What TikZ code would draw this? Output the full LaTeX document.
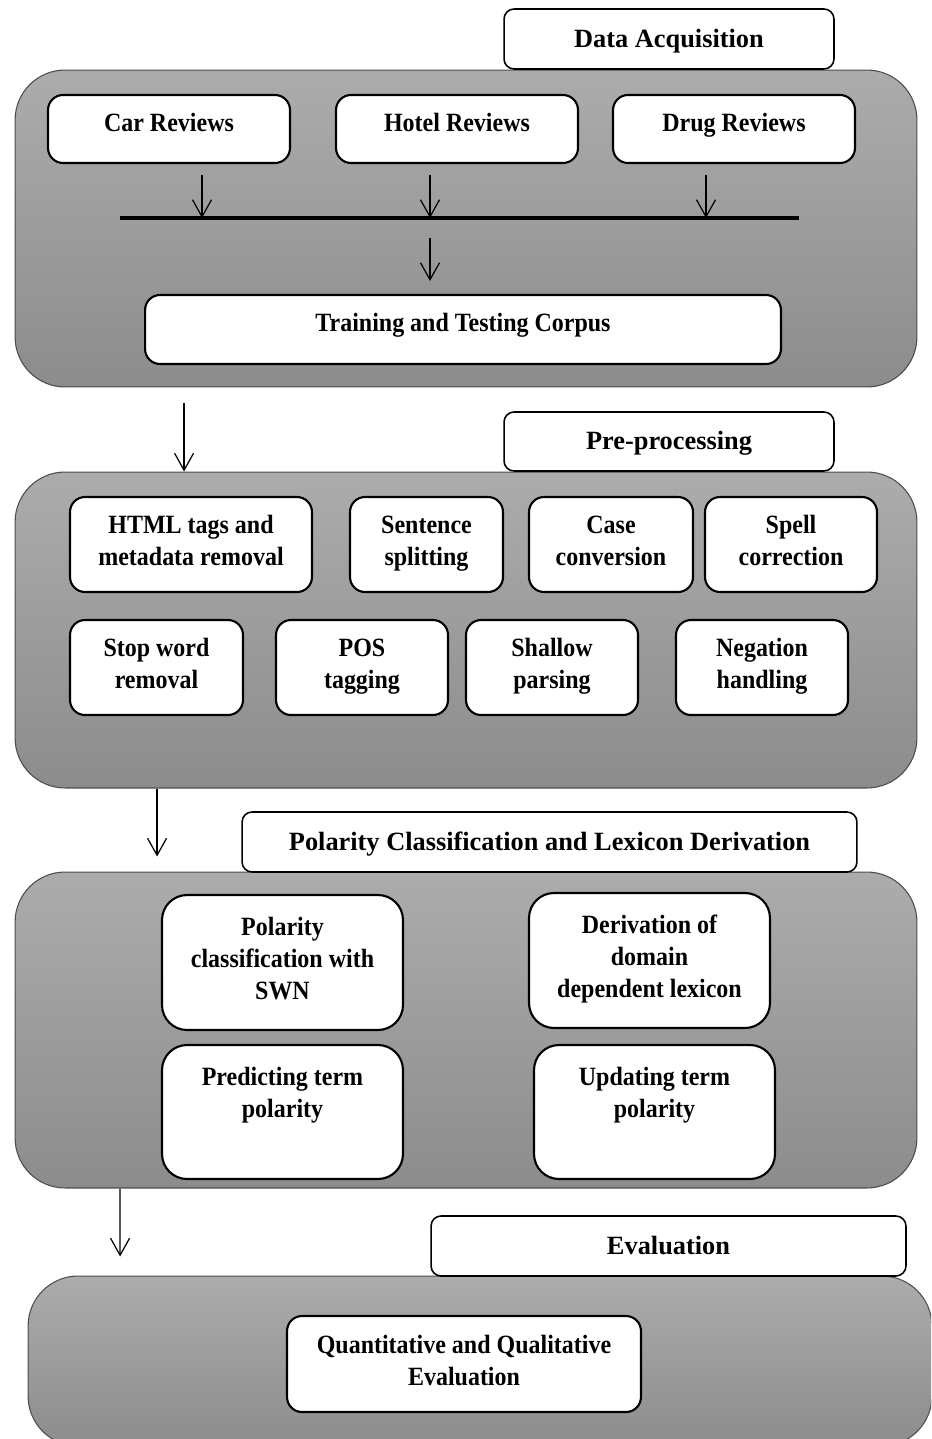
\documentclass[tikz,border=0pt]{standalone}
\usepackage{fontspec}
\setmainfont{Liberation Serif}
\newfontfamily\narrowserif[FakeStretch=0.91]{Liberation Serif}
\usetikzlibrary{arrows.meta}

\definecolor{paneltop}{RGB}{172,172,172}
\definecolor{panelbot}{RGB}{140,140,140}
\newcommand\boxstrut{\rule[-0.24\baselineskip]{0pt}{\baselineskip}}

\begin{document}
\begin{tikzpicture}[x=0.02cm, y=-0.02cm,
  every node/.style={font=\fontsize{15}{18.2}\selectfont\bfseries, align=center, inner sep=0pt,
    execute at begin node=\boxstrut, execute at end node=\boxstrut},
  panel/.style={draw=black!70, line width=0.6pt, rounded corners=1cm, top color=paneltop, bottom color=panelbot},
  headbox/.style={draw, fill=white, line width=0.9pt, rounded corners=0.2cm, minimum height=1.2cm},
  inbox/.style={draw, fill=white, line width=1.2pt, rounded corners=0.3cm, font=\narrowserif\fontsize{15}{18.2}\selectfont\bfseries},
  flow/.style={-{Straight Barb[length=0.34cm,width=0.38cm]}, line width=0.7pt}]
\useasboundingbox (0,0) rectangle (931,1439);
\clip (0,0) rectangle (931,1439);

% data acquisition
\node[panel, minimum width=18.04cm, minimum height=6.34cm] (acq) at (466,228.5) {};
\node[headbox, minimum width=6.6cm] (acqhead) at (669,39) {Data Acquisition};
\node[inbox, text depth=11pt, minimum width=4.84cm, minimum height=1.36cm] (car) at (169,129) {Car Reviews};
\node[inbox, text depth=11pt, minimum width=4.84cm, minimum height=1.36cm] (hotel) at (457,129) {Hotel Reviews};
\node[inbox, text depth=11pt, minimum width=4.84cm, minimum height=1.36cm] (drug) at (734,129) {Drug Reviews};
\node[inbox, text depth=11pt, minimum width=12.72cm, minimum height=1.38cm] (train) at (463,329.5) {Training and Testing Corpus};

\coordinate (barL) at (120,218);
\coordinate (barR) at (799,218);
\draw[line width=2pt] (barL) -- (barR);
\coordinate (a1) at (202,175);
\coordinate (a2) at (430,175);
\coordinate (a3) at (706,175);
\draw[flow] (a1) -- (a1 |- barL);
\draw[flow] (a2) -- (a2 |- barL);
\draw[flow] (a3) -- (a3 |- barL);
\coordinate (b0) at (430,238);
\coordinate (b1) at (430,281);
\draw[flow] (b0) -- (b1);

% pre-processing
\node[panel, minimum width=18.04cm, minimum height=6.32cm] (pre) at (466,630) {};
\node[headbox, minimum width=6.6cm, minimum height=1.18cm] (prehead) at (669,441.5) {Pre-processing};
\node[inbox, minimum width=4.84cm, minimum height=1.9cm] (html) at (191,544.5) {HTML tags and\\metadata removal};
\node[inbox, minimum width=3.06cm, minimum height=1.9cm] (sent) at (426.5,544.5) {Sentence\\splitting};
\node[inbox, minimum width=3.28cm, minimum height=1.9cm] (case) at (611,544.5) {Case\\conversion};
\node[inbox, minimum width=3.44cm, minimum height=1.9cm] (spell) at (791,544.5) {Spell\\correction};
\node[inbox, minimum width=3.46cm, minimum height=1.9cm] (stop) at (156.5,667.5) {Stop word\\removal};
\node[inbox, minimum width=3.44cm, minimum height=1.9cm] (pos) at (362,667.5) {POS\\tagging};
\node[inbox, minimum width=3.44cm, minimum height=1.9cm] (shallow) at (552,667.5) {Shallow\\parsing};
\node[inbox, minimum width=3.44cm, minimum height=1.9cm] (neg) at (762,667.5) {Negation\\handling};

% polarity classification
\node[panel, minimum width=18.04cm, minimum height=6.32cm] (pol) at (466,1030) {};
\node[headbox, minimum width=12.3cm] (polhead) at (549.5,842) {Polarity Classification and Lexicon Derivation};
\node[inbox, rounded corners=0.5cm, minimum width=4.82cm, minimum height=2.7cm] (swn) at (282.5,962.5) {Polarity\\classification with\\SWN};
\node[inbox, rounded corners=0.5cm, minimum width=4.82cm, minimum height=2.7cm] (deriv) at (649.5,960.5) {Derivation of\\domain\\dependent lexicon};
\node[inbox, rounded corners=0.5cm, minimum width=4.82cm, minimum height=2.68cm] (predict) at (282.5,1112) {Predicting term\\polarity\\\mbox{}};
\node[inbox, rounded corners=0.5cm, minimum width=4.82cm, minimum height=2.68cm] (update) at (654.5,1112) {Updating term\\polarity\\\mbox{}};

% evaluation
\node[panel, minimum width=18.08cm, minimum height=3.4cm] (eva) at (480,1361) {};
\node[headbox, minimum width=9.5cm] (evahead) at (668.5,1246) {Evaluation};
\node[inbox, minimum width=7.08cm, minimum height=1.92cm] (quant) at (464,1364) {Quantitative and Qualitative\\Evaluation};

% between the stages
\draw[flow] ([xshift=-5.64cm,yshift=-0.32cm]acq.south) -- ([xshift=-5.64cm]pre.north);
\draw[flow] ([xshift=-6.18cm]pre.south) -- ([xshift=-6.18cm,yshift=0.3cm]pol.north);
\draw[flow] ([xshift=-6.92cm]pol.south) -- ([xshift=-7.2cm,yshift=0.38cm]eva.north);
\end{tikzpicture}
\end{document}
